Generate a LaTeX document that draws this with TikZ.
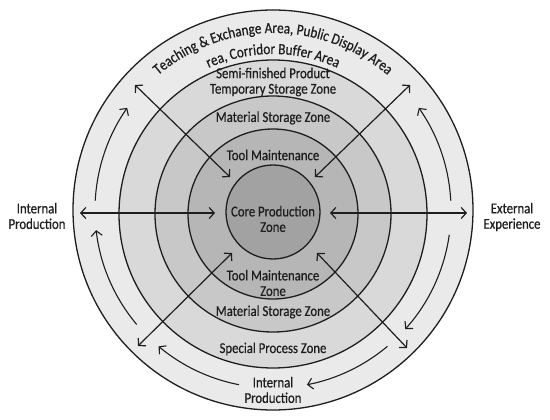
\documentclass[tikz,border=0pt]{standalone}
\usepackage{fontspec}
\setmainfont{Carlito}[FakeStretch=0.85,FakeBold=0.6]
\usetikzlibrary{arrows.meta,decorations.text}
\definecolor{g1}{HTML}{A2A2A2}
\definecolor{g2}{HTML}{B6B6B6}
\definecolor{g3}{HTML}{C8C8C8}
\definecolor{g4}{HTML}{D9D9D9}
\definecolor{g5}{HTML}{EAEAEA}
\definecolor{ink}{HTML}{1E1E1E}
\begin{document}
\begin{tikzpicture}[x=1pt,y=1pt,
  ring/.style={draw=ink, line width=1.3pt},
  lbl/.style={font=\fontsize{15}{15.5}\selectfont, align=center, text=ink, inner sep=0pt},
  tip/.tip={Straight Barb[length=5pt,width=11pt]},
  dbl/.style={line width=1.2pt, draw=ink, tip-tip},
  curv/.style={line width=1.1pt, draw=ink, -tip}]
\useasboundingbox (0,0) rectangle (550,-420);
\fill[white] (0,0) rectangle (550,-420);
\coordinate (O) at (273,-210);
\coordinate (C) at (273,-214);
\coordinate (K) at (273,-212);
% rings
\path[ring, fill=g5] (O) circle[radius=200];
\path[ring, fill=g4] (C) circle[radius=154];
\path[ring, fill=g3] (C) circle[radius=118];
\path[ring, fill=g2] (C) circle[radius=85];
\path[ring, fill=g1] (K) circle[radius=47];
% curved text
\path[decorate, decoration={text along path, text align=center, text color=ink,
  text={|\fontsize{15.5}{16}\selectfont|Teaching {\&} Exchange Area, Public Display Area}}]
  ([shift={(155:177)}]O) arc[start angle=155, end angle=25, radius=177];
\path[decorate, decoration={text along path, text align=center, text color=ink,
  text={|\fontsize{15.5}{16}\selectfont|rea, Corridor Buffer Area}}]
  ([shift={(140:156)}]O) arc[start angle=140, end angle=40, radius=156];
% labels
\node[lbl] (core) at (273,-219) {Core Production\\Zone};
\node[lbl] (tmt) at (273,-155) {Tool Maintenance};
\node[lbl] (mst) at (273,-118) {Material Storage Zone};
\node[lbl] (semi) at (273,-82) {Semi-finished Product\\Temporary Storage Zone};
\node[lbl] (tmb) at (273,-283) {Tool Maintenance\\Zone};
\node[lbl] (msb) at (273,-312) {Material Storage Zone};
\node[lbl] (spz) at (273,-349) {Special Process Zone};
\node[lbl] (ipb) at (273,-390) {Internal\\Production};
\node[lbl] (ipl) at (37,-216) {Internal\\Production};
\node[lbl] (ext) at (512,-217) {External\\Experience};
% straight arrows
\coordinate (l1) at (80,-213);   \coordinate (l2) at (215,-213);
\coordinate (r1) at (330,-213);  \coordinate (r2) at (467,-213);
\coordinate (ul1) at (135,-85);  \coordinate (ul2) at (230,-177);
\coordinate (ur1) at (410,-85);  \coordinate (ur2) at (315,-177);
\coordinate (ll1) at (138,-346); \coordinate (ll2) at (232,-253);
\coordinate (lr1) at (407,-348); \coordinate (lr2) at (317,-253);
\draw[dbl] (l1) -- (l2);
\draw[dbl] (r1) -- (r2);
\draw[dbl] (ul1) -- (ul2);
\draw[dbl] (ur1) -- (ur2);
\draw[dbl] (ll1) -- (ll2);
\draw[dbl] (lr1) -- (lr2);
% curved arrows in outer ring
\coordinate (a1) at ([shift={(177:178)}]O);
\coordinate (a2) at ([shift={(220:178)}]O);
\coordinate (a3) at ([shift={(259:178)}]O);
\coordinate (a4) at ([shift={(3:178)}]O);
\coordinate (a5) at ([shift={(-8:178)}]O);
\coordinate (a6) at ([shift={(-50:178)}]O);
\draw[curv] (a1) arc[start angle=177, end angle=145, radius=178];
\draw[curv] (a2) arc[start angle=220, end angle=186.5, radius=178];
\draw[curv] (a3) arc[start angle=259, end angle=230, radius=178];
\draw[curv] (a4) arc[start angle=3, end angle=35, radius=178];
\draw[curv] (a5) arc[start angle=-8, end angle=-42, radius=178];
\draw[curv] (a6) arc[start angle=-50, end angle=-79, radius=178];
\end{tikzpicture}
\end{document}
